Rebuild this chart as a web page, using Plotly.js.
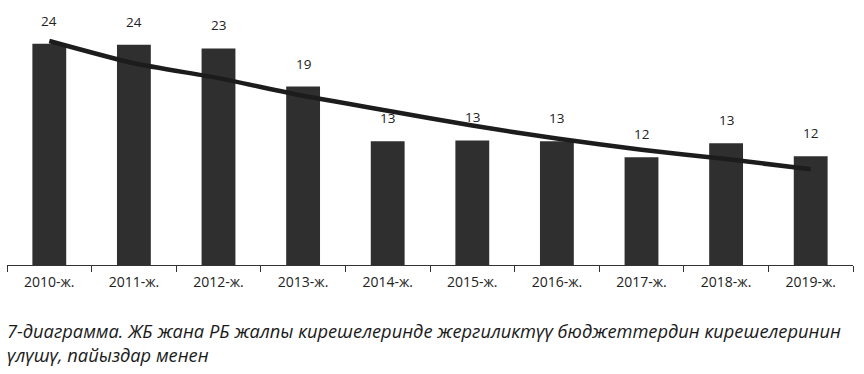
<!DOCTYPE html>
<html>
<head>
<meta charset="utf-8">
<script src="https://cdn.plot.ly/plotly-3.0.1.min.js"></script>
<style>html,body{margin:0;padding:0;background:#fff;}#chart{width:864px;height:374px;}</style>
</head>
<body>
<div id="chart"></div>
<script>
// Data
const years = ["2010-ж.", "2011-ж.", "2012-ж.", "2013-ж.", "2014-ж.", "2015-ж.", "2016-ж.", "2017-ж.", "2018-ж.", "2019-ж."];
const shares = [23.8, 23.7, 23.3, 19.2, 13.3, 13.4, 13.3, 11.6, 13.1, 11.7];
const shareLabels = ["24", "24", "23", "19", "13", "13", "13", "12", "13", "12"];
const trend = [24.1, 21.7, 20.1, 18.2, 16.6, 15.0, 13.6, 12.4, 11.4, 10.3];
const captionLines = [
  "7-диаграмма. ЖБ жана РБ жалпы кирешелеринде жергиликтүү бюджеттердин кирешелеринин",
  "үлүшү, пайыздар менен"
];

const font = "'Open Sans', 'Noto Sans', sans-serif";

const bars = {
  type: "bar",
  x: years,
  y: shares,
  marker: {color: "#2f2f2f", line: {width: 0}},
  hoverinfo: "skip"
};
const line = {
  type: "scatter",
  mode: "lines",
  x: years,
  y: trend,
  line: {color: "#1c1c1c", width: 4.5, shape: "spline", smoothing: 0.6},
  hoverinfo: "skip"
};

const annotations = years.map((yr, i) => ({
  x: yr, y: shares[i], xref: "x", yref: "y",
  text: shareLabels[i], showarrow: false,
  yanchor: "bottom", yshift: 12,
  font: {family: font, size: 13.5, color: "#222"}
}));
annotations.push({
  x: 0, y: 0, xref: "paper", yref: "paper",
  xanchor: "left", yanchor: "middle",
  xshift: -2, yshift: -77,
  text: captionLines.map(t => "<i>" + t + "</i>").join("<br>"),
  showarrow: false, align: "left",
  font: {family: font, size: 18.3, color: "#1a1a1a"}
});

const layout = {
  width: 864, height: 374,
  margin: {l: 7, r: 11, t: 14, b: 109, pad: 0},
  paper_bgcolor: "#fff", plot_bgcolor: "#fff",
  showlegend: false,
  bargap: 0.6,
  font: {family: font, color: "#222"},
  xaxis: {
    type: "category",
    showline: true, linecolor: "#333", linewidth: 1,
    ticks: "outside", tickson: "boundaries", ticklen: 6, tickcolor: "#333", tickwidth: 1,
    tickfont: {family: font, size: 14, color: "#222"},
    ticklabelstandoff: 4,
    showgrid: false, zeroline: false, fixedrange: true
  },
  yaxis: {
    range: [0, 27],
    visible: false, showgrid: false, zeroline: false, fixedrange: true
  },
  annotations: annotations
};

Plotly.newPlot("chart", [bars, line], layout, {staticPlot: true, displayModeBar: false});
</script>
</body>
</html>
